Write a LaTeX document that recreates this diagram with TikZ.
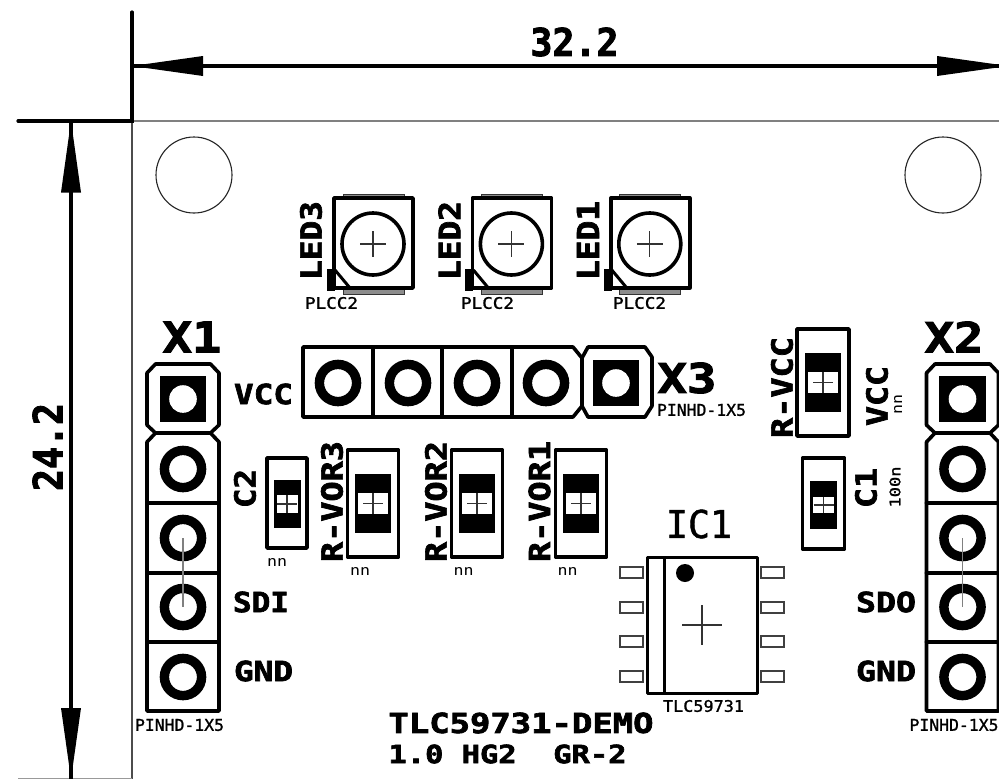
\documentclass[tikz,border=0pt]{standalone}
\usepackage{graphicx}
\usepackage{fontspec}
\newfontfamily\boldt[FakeBold=2.2]{DejaVu Sans Mono Bold}
\newfontfamily\plaint{DejaVu Sans Mono}
\newfontfamily\midt[FakeBold=1.2]{DejaVu Sans Mono}
\tikzset{
  thick outline/.style={line width=3.6pt,line cap=round,line join=round,draw=black},
  thin pin/.style={line width=1.1pt,draw=black!75,fill=white},
  cross line/.style={line width=1.1pt,draw=black!80},
  dim line/.style={line width=3.2pt,draw=black,line cap=round},
  hole/.style={line width=1.1pt,draw=black!85},
  centre line/.style={line width=1.2pt,draw=black!50},
  txt/.style={inner sep=0pt,outer sep=0pt,text=black}
}
% #1 name, #2 rotate, #3 x, #4 y, #5 width, #6 height, #7 text
\newcommand\btext[7]{\node[txt,rotate=#2] (#1) at (#3,#4) {\resizebox*{#5pt}{#6pt}{\boldt #7}};}
\newcommand\ptext[7]{\node[txt,rotate=#2] (#1) at (#3,#4) {\resizebox*{#5pt}{#6pt}{\plaint #7}};}
\newcommand\mtext[7]{\node[txt,rotate=#2] (#1) at (#3,#4) {\resizebox*{#5pt}{#6pt}{\midt #7}};}
% LED: x offset
\newcommand\ledpart[1]{
  \begin{scope}[xshift=#1pt]
    \fill[black!45] (343,194) rectangle (404,198);
    \fill[black!45] (343,288) rectangle (404,294);
    \draw[line width=1pt,black!80] (343,198) -- (343,194) -- (404,194) -- (404,198);
    \draw[line width=1pt,black!80] (343,288) -- (343,294) -- (404,294) -- (404,288);
    \draw[thick outline] (334,198) rectangle (413,288);
    \draw[line width=3.6pt] (373,244) circle (31pt);
    \draw[cross line] (360,244) -- (386,244);
    \draw[cross line] (373,231) -- (373,257);
    \fill (327,269) rectangle (335,291);
    \draw[line width=3pt] (335,270) -- (350,288);
  \end{scope}
}
% SMD: cx cy, rect halfwidth, rect top, rect bottom, pad halfwidth, pad tops
\newcommand\smdpart[9]{
  \draw[thick outline] (#1-#3,#4) rectangle (#1+#3,#5);
  \fill (#1-#6,#7) rectangle (#1+#6,#8);
  \fill (#1-#6,#9) rectangle (#1+#6,{#9+(#8-#7)});
  \fill (#1-#6,#8) rectangle (#1-#6+3,#9);
  \fill (#1+#6-3,#8) rectangle (#1+#6,#9);
  \draw[cross line] (#1-10,#2) -- (#1+10,#2);
  \draw[cross line] (#1,#8) -- (#1,#9);
}
\newcommand\roundpad[2]{\draw[line width=9.4pt] (#1,#2) circle (18.6pt);}
\newcommand\squarepad[2]{
  \fill (#1-23.3,#2-23.3) rectangle (#1+23.3,#2+23.3);
  \fill[white] (#1,#2) circle (13.8pt);
}
\newcommand\icpins[1]{
  \draw[thin pin] (620,#1) rectangle (643,#1+11);
  \draw[thin pin] (761,#1) rectangle (784,#1+11);
}
% vertical header at centre x
\newcommand\vheader[1]{
  \draw[thick outline] (#1-27.5,364) -- (#1+27.5,364) -- (#1+36,373) -- (#1+36,425) -- (#1+27.5,433) -- (#1-27.5,433) -- (#1-36,425) -- (#1-36,373) -- cycle;
  \draw[thick outline] (#1-27.5,433) -- (#1-36,442) -- (#1-36,711) -- (#1+36,711) -- (#1+36,442) -- (#1+27.5,433);
  \draw[thick outline] (#1-36,503) -- (#1+36,503);
  \draw[thick outline] (#1-36,573) -- (#1+36,573);
  \draw[thick outline] (#1-36,642) -- (#1+36,642);
  \squarepad{#1}{399}
  \roundpad{#1}{469}
  \roundpad{#1}{538}
  \roundpad{#1}{607}
  \roundpad{#1}{677}
  \draw[centre line] (#1,538) -- (#1,607);
}
\begin{document}
\begin{tikzpicture}[x=1pt,y=-1pt]
\useasboundingbox (0,0) rectangle (999,779);
\clip (0,0) rectangle (999,779);
\fill[white] (0,0) rectangle (999,779);

% board outline
\draw[line width=2pt,black!50] (132,121) -- (999,121);
\draw[line width=1.2pt,black!70] (132,121) -- (132,779);
\draw[line width=1pt,black!40] (18,778) -- (132,778);

% dimensions
\coordinate (dimtop) at (132,12);
\coordinate (corner) at (132,121);
\coordinate (dimleft) at (18,121);
\coordinate (ha) at (132,66);
\coordinate (hb) at (1008,66);
\coordinate (va) at (71,121);
\coordinate (vb) at (71,779);
\draw[dim line] (dimtop) -- (corner) -- (dimleft);
\draw[dim line] (ha) -- (hb);
\draw[dim line] (va) -- (vb);
\fill (ha) -- (203,56) -- (203,76) -- cycle;
\fill (hb) -- (937,56) -- (937,76) -- cycle;
\fill (va) -- (61,192.5) -- (81,192.5) -- cycle;
\fill (vb) -- (61,708) -- (81,708) -- cycle;
\btext{dimw}{0}{574.5}{42}{88}{29}{32.2}
\btext{dimh}{90}{47.5}{447}{88}{30}{24.2}

% mounting holes
\draw[hole] (194,175) circle (38pt);
\draw[hole] (943,175) circle (38pt);

% LEDs
\ledpart{0}
\ledpart{138.4}
\ledpart{276.8}
\btext{led3}{90}{311}{240.5}{79}{22}{LED3}
\btext{led2}{90}{449.4}{240.5}{79}{22}{LED2}
\btext{led1}{90}{588}{240.5}{79}{22}{LED1}
\mtext{pl3}{0}{331.5}{303}{53}{12}{PLCC2}
\mtext{pl2}{0}{487.5}{303}{53}{12}{PLCC2}
\mtext{pl1}{0}{639.5}{303}{53}{12}{PLCC2}

% X3 header
\draw[thick outline] (303,347) -- (573,347) -- (582,358) -- (582,406) -- (573,417) -- (303,417) -- cycle;
\draw[thick outline] (582,358) -- (588,347) -- (645,347) -- (652,357) -- (652,406) -- (645,417) -- (588,417) -- (582,406);
\draw[thick outline] (373,347) -- (373,417);
\draw[thick outline] (442,347) -- (442,417);
\draw[thick outline] (512,347) -- (512,417);
\roundpad{338}{383}
\roundpad{408}{383}
\roundpad{477}{383}
\roundpad{546}{383}
\squarepad{616}{383}
\btext{xthree}{0}{687}{378}{59}{31}{X3}
\mtext{xthreev}{0}{701.5}{410}{89}{12}{PINHD-1X5}

% X1, X2 headers
\vheader{183}
\vheader{962.5}
\btext{xone}{0}{192}{337}{59}{31}{X1}
\btext{xtwo}{0}{954}{337}{59}{31}{X2}
\btext{lvcc}{0}{263.5}{394}{59}{21}{VCC}
\btext{lsdi}{0}{261}{602}{56}{21}{SDI}
\btext{lgnd}{0}{263.5}{671}{59}{21}{GND}
\btext{lsdo}{0}{886}{602}{60}{21}{SDO}
\btext{lgndb}{0}{886}{671}{60}{21}{GND}
\mtext{xonev}{0}{179.5}{725}{89}{12}{PINHD-1X5}
\mtext{xtwov}{0}{954}{725}{89}{12}{PINHD-1X5}

% passives: cx cy halfw top bottom padhalf padtop1 padbot1 padtop2
\smdpart{287}{504}{20}{458}{548}{13.5}{480}{495}{513}
\smdpart{373}{503.5}{25.5}{450}{557}{18}{474}{493}{514}
\smdpart{477}{503.5}{25.5}{450}{557}{18}{474}{493}{514}
\smdpart{581}{503.5}{25.5}{450}{557}{18}{474}{493}{514}
\smdpart{823}{382.5}{26}{329}{436}{18}{353}{372}{393}
\smdpart{823.5}{505}{21}{458}{549}{13.5}{481}{497}{513}

\btext{lctwo}{90}{245}{488.5}{39}{22}{C2}
\btext{lvorc}{90}{332}{501.5}{121}{22}{R-VOR3}
\btext{lvorb}{90}{436}{501.5}{121}{22}{R-VOR2}
\btext{lvora}{90}{539.5}{501.5}{121}{22}{R-VOR1}
\btext{lrvcc}{90}{782}{387.5}{101}{22}{R-VCC}
\btext{lvccb}{90}{877}{396}{60}{22}{VCC}
\btext{lcone}{90}{866}{488}{40}{22}{C1}
\ptext{nctwo}{0}{277}{562}{20}{8}{nn}
\ptext{nvc}{0}{360}{571}{20}{8}{nn}
\ptext{nvb}{0}{463.5}{571}{20}{8}{nn}
\ptext{nva}{0}{567.5}{571}{20}{8}{nn}
\ptext{nvcc}{90}{898}{404}{20}{8}{nn}
\mtext{vcone}{90}{895}{487}{41}{11}{100n}

% IC1
\icpins{567}
\icpins{602}
\icpins{636}
\icpins{671}
\draw[line width=3pt,line join=round] (647,557) rectangle (757,693);
\draw[line width=3pt] (664,557) -- (664,693);
\fill (685,573) circle (9pt);
\draw[cross line] (682,625) -- (722,625);
\draw[cross line] (702,605) -- (702,645);
\mtext{icname}{0}{699}{524}{66}{29}{IC1}
\mtext{icval}{0}{703.5}{706}{81}{12}{TLC59731}

% title
\btext{titlea}{0}{521}{723}{265}{21}{TLC59731-DEMO}
\btext{titleb}{0}{507.5}{754}{238}{19}{1.0 HG2\ \ GR-2}
\end{tikzpicture}
\end{document}
